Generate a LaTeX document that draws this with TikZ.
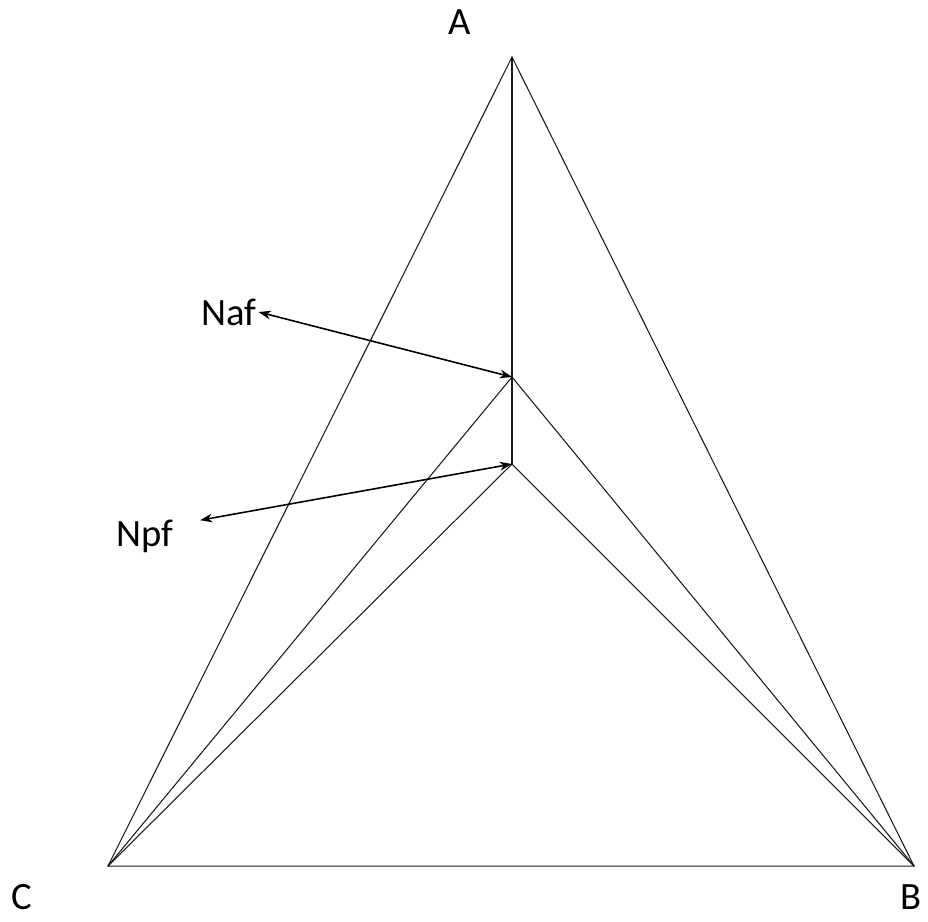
\documentclass[tikz,border=0pt]{standalone}
\usepackage{fontspec}
\setmainfont{Carlito}
\usetikzlibrary{arrows.meta, positioning}

\begin{document}
\begin{tikzpicture}[
        x=0.02cm, y=-0.02cm,
        font=\fontsize{22}{24}\selectfont,
        edge/.style={draw=black!90, line width=0.6pt},
        pointer/.style={draw=black, line width=0.9pt, {Stealth[length=7pt,width=5pt]}-{Stealth[length=7pt,width=5pt]}},
        vlabel/.style={inner sep=1pt}
    ]
    \useasboundingbox (0,0) rectangle (928,921);

    % corners of the triangle
    \coordinate (a) at (512,57);
    \coordinate (b) at (914,866);
    \coordinate (c) at (108,866);

    % inner points
    \coordinate (pa) at (512,377);
    \coordinate (pp) at (512,464);

    % labels
    \node[vlabel] (la) at (460,22) {A};
    \node[vlabel] (lb) at (911,897) {B};
    \node[vlabel] (lc) at (22,897) {C};
    \node[vlabel] (naf) at (229,312) {Naf};
    \node[vlabel] (npf) at (145,536) {Npf};

    % outer triangle
    \draw[edge] (a) -- (b) -- (c) -- cycle;

    % inner lines
    \draw[edge] (a) -- (pp);
    \draw[edge] (c) -- (pa) -- (b);
    \draw[edge] (c) -- (pp) -- (b);

    % pointers
    \draw[pointer] (naf.east) -- (pa);
    \draw[pointer] ([xshift=14pt,yshift=9pt]npf.east) -- (pp);

\end{tikzpicture}
\end{document}
